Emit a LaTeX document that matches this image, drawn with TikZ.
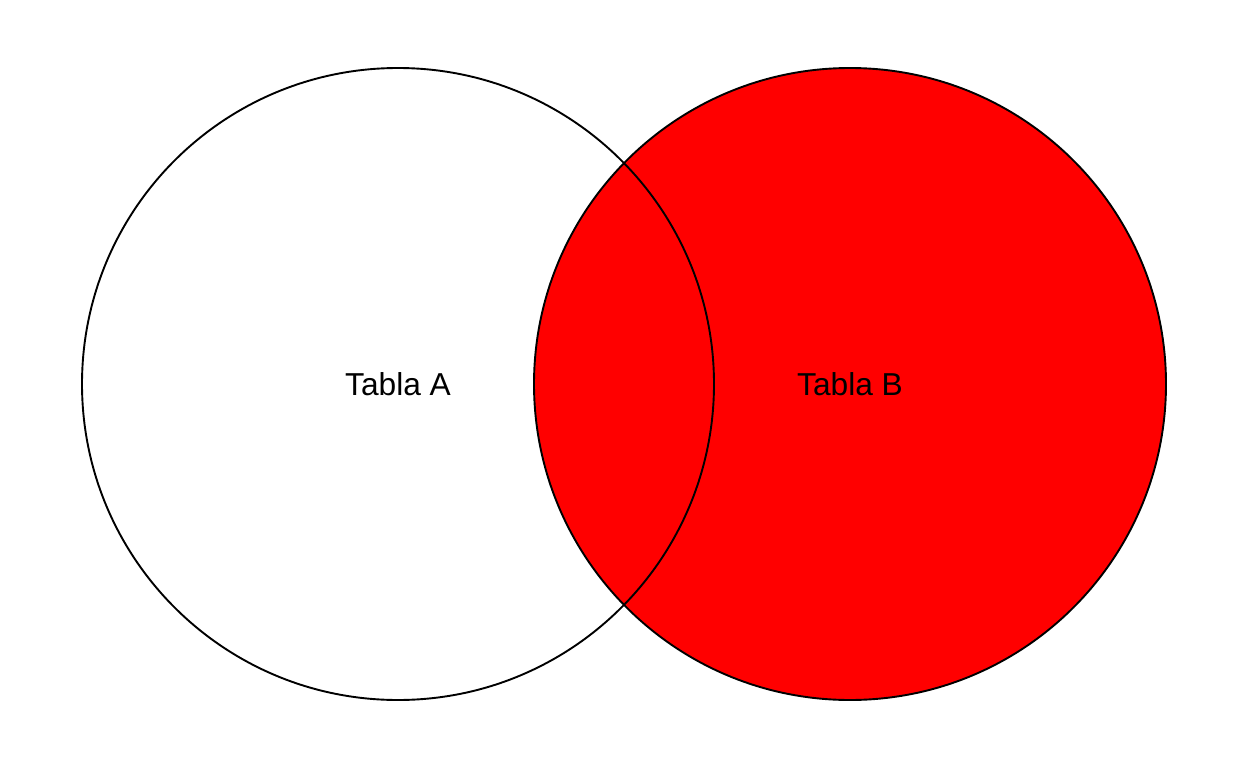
\documentclass[tikz,border=0pt]{standalone}
\usepackage{fontspec}
\setmainfont{Liberation Sans}
\begin{document}
\begin{tikzpicture}[x=1pt,y=-1pt,
  setline/.style={draw=black,line width=1.9pt},
  setlabel/.style={font=\fontsize{31.7}{36}\selectfont,text=black,inner sep=0pt}]
\useasboundingbox (0,0) rectangle (1248,768);
\fill[white] (0,0) rectangle (1248,768);
\coordinate (ca) at (398,384);
\coordinate (cb) at (850,384);
\fill[red] (cb) circle[radius=316];
\draw[setline] (ca) circle[radius=316];
\draw[setline] (cb) circle[radius=316];
\node[setlabel] (la) at (ca) {Tabla A};
\node[setlabel] (lb) at (cb) {Tabla B};
\end{tikzpicture}
\end{document}
